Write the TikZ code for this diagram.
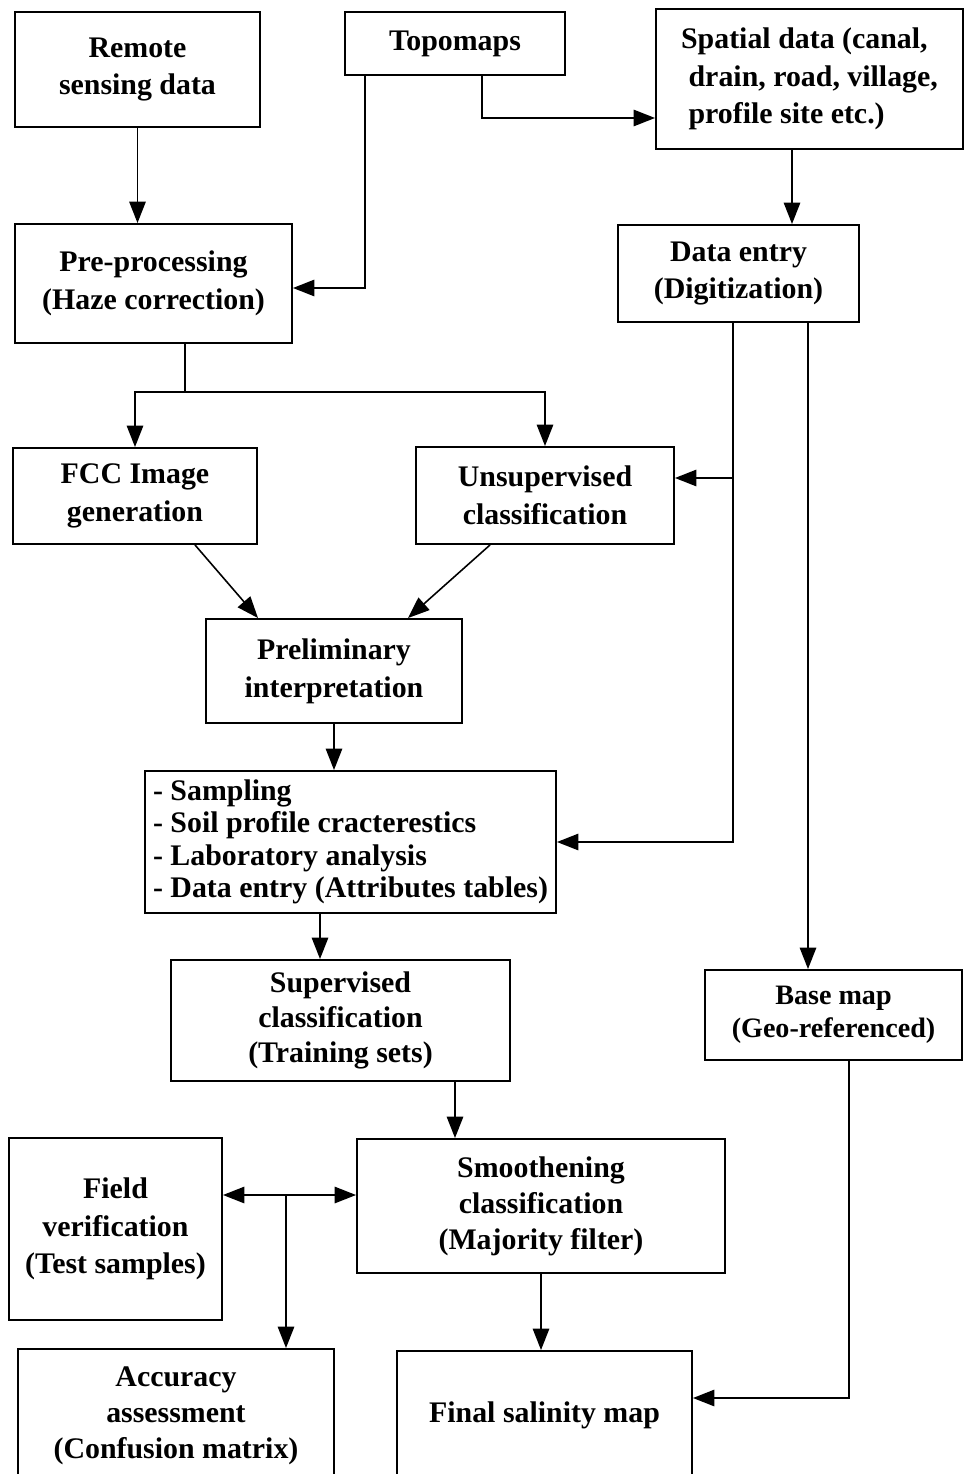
\documentclass[tikz,border=0pt]{standalone}
\usepackage{fontspec}
\setmainfont{Liberation Serif}
\usetikzlibrary{arrows.meta}

\begin{document}
\begin{tikzpicture}[>={Triangle[length=4.3mm,width=3.3mm]},
  font=\bfseries\fontsize{17}{21.5}\selectfont,
  box/.style={draw, line width=1.1pt, align=center, inner sep=2pt},
  link/.style={->, line width=0.9pt}]
  \useasboundingbox (0,0) rectangle (19.3,-29.48);
  \fill[white] (0,0) rectangle (19.3,-29.48);
  % ---- data sources ----
  \node[box, minimum width=4.9cm, minimum height=2.3cm] (remote) at (2.75,-1.39) {Remote\\sensing data};
  \node[box, minimum width=4.4cm, minimum height=1.26cm] (topo) at (9.1,-0.87) {Topomaps};
  \node[box, align=left, minimum width=6.14cm, minimum height=2.8cm] (spatial) at (16.19,-1.58)
    {Spatial data (canal,\\\hspace*{1.5mm}drain, road, village,\\\hspace*{1.5mm}profile site etc.)};
  % ---- image side ----
  \node[box, minimum width=5.54cm, minimum height=2.38cm] (preproc) at (3.07,-5.67) {Pre-processing\\(Haze correction)};
  \node[box, minimum width=4.88cm, minimum height=1.92cm] (fcc) at (2.7,-9.92) {FCC Image\\generation};
  \node[box, minimum width=5.16cm, minimum height=1.94cm] (unsup) at (10.9,-9.91) {Unsupervised\\classification};
  \node[box, minimum width=5.12cm, minimum height=2.08cm] (prelim) at (6.68,-13.42) {Preliminary\\interpretation};
  \node[box, align=left, font=\bfseries\fontsize{17}{18.5}\selectfont,
    minimum width=8.22cm, minimum height=2.84cm] (sampling) at (7.01,-16.84)
    {- Sampling\\- Soil profile cracterestics\\- Laboratory analysis\\- Data entry (Attributes tables)};
  \node[box, font=\bfseries\fontsize{17}{20}\selectfont, minimum width=6.78cm, minimum height=2.42cm] (superv) at (6.81,-20.41)
    {Supervised\\classification\\(Training sets)};
  % ---- vector side ----
  \node[box, minimum width=4.82cm, minimum height=1.94cm] (dataentry) at (14.77,-5.47) {Data entry\\(Digitization)};
  \node[box, font=\bfseries\fontsize{16}{19}\selectfont, minimum width=5.14cm, minimum height=1.8cm] (basemap) at (16.67,-20.3)
    {Base map\\(Geo-referenced)};
  % ---- post-classification ----
  \node[box, minimum width=4.26cm, minimum height=3.64cm] (field) at (2.31,-24.58) {Field\\verification\\(Test samples)};
  \node[box, font=\bfseries\fontsize{17}{20.5}\selectfont, minimum width=7.36cm, minimum height=2.68cm] (smooth) at (10.82,-24.12)
    {Smoothening\\classification\\(Majority filter)};
  \node[box, font=\bfseries\fontsize{17}{20.5}\selectfont, minimum width=6.32cm, minimum height=2.68cm] (accuracy) at (3.52,-28.32)
    {Accuracy\\assessment\\(Confusion matrix)};
  \node[box, minimum width=5.9cm, minimum height=2.58cm] (final) at (10.89,-28.31) {Final salinity map};
  % ---- helper points ----
  \coordinate (split) at (3.7,-7.84);
  \coordinate (dl) at (14.66,-6.44);
  \coordinate (dr) at (16.16,-6.44);
  \coordinate (ue) at ([yshift=.35cm]unsup.east);
  \coordinate (fv) at ([yshift=.68cm]field.east);
  \coordinate (ad) at ([xshift=2.2cm]accuracy.north);
  \coordinate (fe) at ([yshift=.35cm]final.east);
  % ---- connectors ----
  \draw[link] (remote.south) -- (remote.south |- preproc.north);
  \draw[link] ([xshift=-1.8cm]topo.south) |- ([yshift=-.09cm]preproc.east);
  \draw[link] ([xshift=.54cm]topo.south) |- ([yshift=-.78cm]spatial.west);
  \draw[link] ([xshift=-.35cm]spatial.south) -- ([xshift=-.35cm]spatial.south |- dataentry.north);
  \draw[line width=0.9pt] (split |- preproc.south) -- (split);
  \draw[link] (split) -| (fcc.north);
  \draw[link] (split) -| (unsup.north);
  \draw[link] (dl) |- (sampling.east);
  \draw[link] (dl |- ue) -- (ue);
  \draw[link] (dr) -- (dr |- basemap.north);
  \draw[link] ([xshift=1.2cm]fcc.south) -- ([xshift=-1.52cm]prelim.north);
  \draw[link] ([xshift=-1.1cm]unsup.south) -- ([xshift=1.48cm]prelim.north);
  \draw[link] (prelim.south) -- (prelim.south |- sampling.north);
  \draw[link] ([xshift=-.61cm]sampling.south) -- ([xshift=-.61cm]sampling.south |- superv.north);
  \draw[link] ([xshift=2.29cm]superv.south) -- ([xshift=2.29cm]superv.south |- smooth.north);
  \draw[link, <->] (fv) -- (fv -| smooth.west);
  \draw[link] (ad |- fv) -- (ad);
  \draw[link] (smooth.south) -- (smooth.south |- final.north);
  \draw[link] ([xshift=.31cm]basemap.south) |- (fe);
\end{tikzpicture}
\end{document}
